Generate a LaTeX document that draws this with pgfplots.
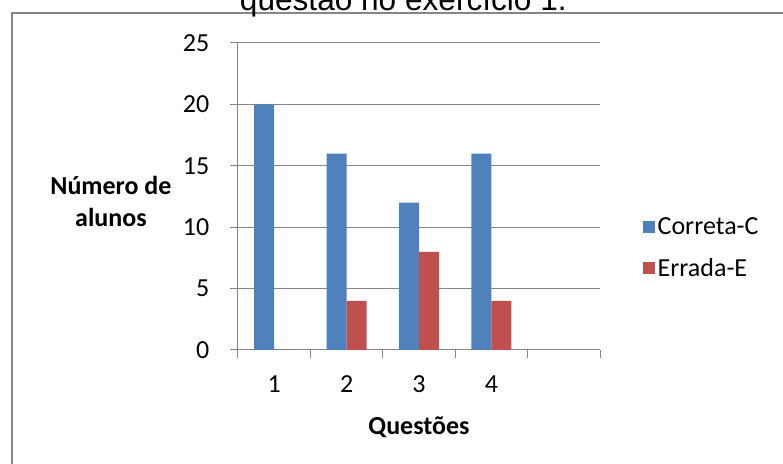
\documentclass[border=0pt]{standalone}
\usepackage{pgfplots}
\pgfplotsset{compat=1.18}
\usepackage{fontspec}
\setmainfont{Carlito}
\newfontfamily\arialfont{Liberation Sans}
\definecolor{cblue}{HTML}{4F81BD}
\definecolor{cred}{HTML}{C0504D}
\definecolor{cgrid}{HTML}{868686}
\begin{document}
\begin{tikzpicture}
% 1px = 0.75pt, picture 783x464 px
\path[use as bounding box] (0pt,0pt) rectangle (587.25pt,348pt);
\draw[cgrid, line width=1.1pt] (9pt,-20pt) rectangle (600pt,338.25pt);
\node[anchor=base, inner sep=0pt, font=\arialfont\fontsize{23.7pt}{27pt}\selectfont] at (302.5pt,339.75pt) {questão no exercício 1.};
\begin{axis}[
  at={(178.5pt,85.5pt)}, anchor=origin,
  scale only axis, width=271.5pt, height=230.25pt,
  font=\fontsize{19.5pt}{23pt}\selectfont,
  /pgf/number format/assume math mode=true,
  ybar=0pt, bar width=15pt,
  xmin=0.5, xmax=5.5, ymin=0, ymax=25,
  axis lines*=left,
  axis line style={cgrid, line width=0.75pt},
  xtick={1,2,3,4}, xticklabels={1,2,3,4},
  minor xtick={0.5,1.5,2.5,3.5,4.5,5.5},
  ytick={0,5,10,15,20,25},
  tick align=outside,
  major tick length=6pt, minor tick length=6pt,
  tick style={cgrid, line width=0.75pt},
  xtick style={draw=none},
  minor x tick style={draw=cgrid, line width=0.75pt},
  ymajorgrids, grid style={cgrid, line width=0.75pt},
  xticklabel style={yshift=-10pt},
  yticklabel style={xshift=-12pt},
  xlabel={Questões}, ylabel={Número de\\alunos},
  xlabel style={font=\bfseries\fontsize{19.5pt}{23pt}\selectfont, at={(axis description cs:0.5,-0.251)}, anchor=center},
  ylabel style={font=\bfseries\fontsize{19.5pt}{24pt}\selectfont, rotate=-90, align=center, at={(axis description cs:-0.351,0.485)}, anchor=center},
  legend style={at={(axis description cs:1.107,0.332)}, anchor=west, draw=none, fill=none,
    font=\fontsize{19.5pt}{23pt}\selectfont, row sep=12pt, cells={anchor=west}},
  legend image code/.code={\fill[#1] (0pt,-4.5pt) rectangle (9pt,4.5pt);},
]
\addplot[fill=cblue, draw=none] coordinates {(1,20) (2,16) (3,12) (4,16)};
\addlegendentry{Correta-C}
\addplot[fill=cred, draw=none] coordinates {(1,0) (2,4) (3,8) (4,4)};
\addlegendentry{Errada-E}
\end{axis}
\end{tikzpicture}
\end{document}
